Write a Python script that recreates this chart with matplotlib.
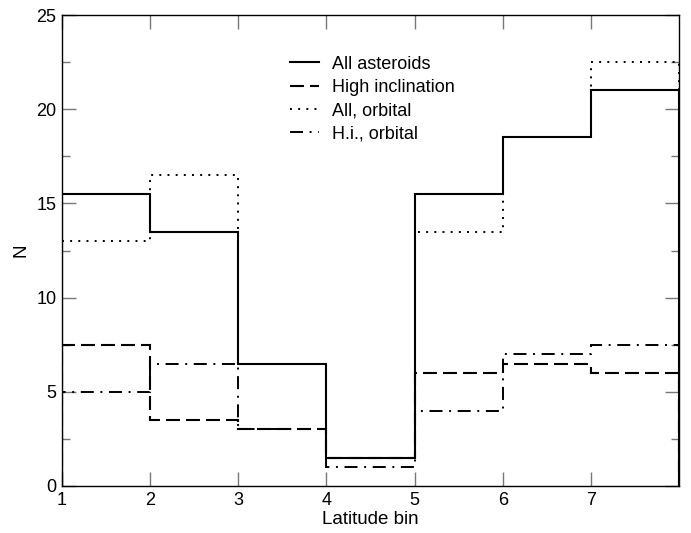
import matplotlib
matplotlib.use('Agg')
import matplotlib.pyplot as plt
from matplotlib.ticker import MultipleLocator

plt.rcParams['font.family'] = ['Liberation Sans', 'DejaVu Sans']

# latitude bin edges and counts per bin
edges = [1, 2, 3, 4, 5, 6, 7, 8]
all_ast = [15.5, 13.5, 6.5, 1.5, 15.5, 18.5, 21.0]
high_inc = [7.5, 3.5, 3.0, 1.5, 6.0, 6.5, 6.0]
all_orb = [13.0, 16.5, 6.5, 1.5, 13.5, 18.5, 22.5]
hi_orb = [5.0, 6.5, 3.0, 1.0, 4.0, 7.0, 7.5]

fig = plt.figure(figsize=(6.91, 5.33), dpi=100)
ax = fig.add_axes([62/691, 1-486/533, (679-62)/691, (486-15)/533])

ax.stairs(hi_orb, edges, color='black', lw=1.4, linestyle=(0, (6.7, 3.4, 1, 3.4)), label='H.i., orbital', zorder=2)
ax.stairs(all_orb, edges, color='black', lw=1.4, linestyle=(0, (1, 3.2)), label='All, orbital', zorder=2)
ax.stairs(high_inc, edges, color='black', lw=1.5, linestyle=(0, (6.7, 2.9)), label='High inclination', zorder=3)
ax.stairs(all_ast, edges, color='black', lw=1.5, linestyle='-', label='All asteroids', zorder=4)

ax.set_xlim(1, 8)
ax.set_ylim(0, 25)
ax.set_xticks([1, 2, 3, 4, 5, 6, 7])
ax.yaxis.set_major_locator(MultipleLocator(5))
ax.yaxis.set_minor_locator(MultipleLocator(2.5))
ax.tick_params(which='both', direction='in', top=True, right=True,
               color='#777777', labelsize=13, width=1)
ax.tick_params(which='major', length=10, pad=4)
ax.tick_params(which='minor', length=5.5)
for s in ax.spines.values():
    s.set_linewidth(1.0)

ax.set_xlabel('Latitude bin', fontsize=13.5, labelpad=2)
ax.set_ylabel('N', fontsize=13.5, labelpad=5)

h, l = ax.get_legend_handles_labels()
order = [3, 2, 1, 0]
ax.legend([h[i] for i in order], [l[i] for i in order], frameon=False, fontsize=13,
          loc='upper left', bbox_to_anchor=(0.358, 0.929), handlelength=1.6,
          handletextpad=0.72, labelspacing=0.35, borderaxespad=0)

fig.savefig('out.png', dpi=100)
